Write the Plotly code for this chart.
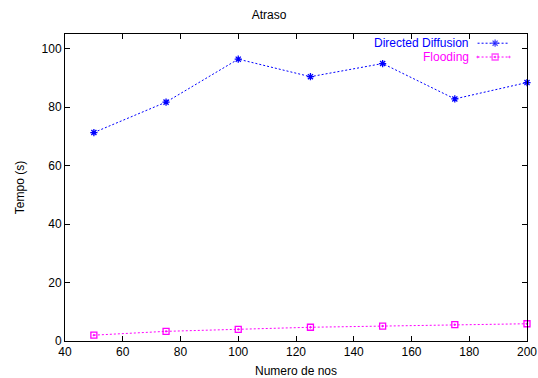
import plotly.graph_objects as go

# Number of nodes in each simulation run
nodes = [50, 75, 100, 125, 150, 175, 200]

# Mean delay (seconds) per protocol
directed_diffusion = [71.3, 81.7, 96.4, 90.4, 94.9, 82.8, 88.4]
flooding = [2.0, 3.3, 4.0, 4.7, 5.1, 5.6, 5.9]

series_names = ["Directed Diffusion", "Flooding"]
colors = ["#0000ff", "#ff00ff"]
symbols = ["asterisk-open", "square-open-dot"]

FONT = "Liberation Sans, Arial, Helvetica, sans-serif"
DOTTED = "2px,2px"

fig = go.Figure()
for name, ys, color, sym in zip(series_names, [directed_diffusion, flooding], colors, symbols):
    fig.add_trace(go.Scatter(
        x=nodes, y=ys, name=name, mode="lines+markers",
        line=dict(color=color, width=1, dash=DOTTED),
        marker=dict(symbol=sym, size=6, color=color, line=dict(color=color, width=1.3)),
        showlegend=False, cliponaxis=False,
    ))

# gnuplot-style key: right-aligned label followed by the line sample
key_rows = [0.970, 0.925]
for name, color, sym, ky in zip(series_names, colors, symbols, key_rows):
    fig.add_annotation(
        xref="paper", yref="paper", x=0.878, y=ky, xanchor="right", yanchor="middle",
        text=name, showarrow=False,
        font=dict(family=FONT, size=12, color=color),
    )
    fig.add_trace(go.Scatter(
        x=[0.893, 0.931, 0.962], y=[ky, ky, ky], xaxis="x2", yaxis="y2",
        mode="lines+markers",
        line=dict(color=color, width=1, dash=DOTTED),
        marker=dict(symbol=sym, size=[0, 6, 0], color=color, line=dict(color=color, width=1.3)),
        showlegend=False, hoverinfo="skip",
    ))

axis_common = dict(
    showline=True, linecolor="black", linewidth=1, mirror="ticks",
    ticks="inside", ticklen=5, tickcolor="black", tickwidth=1,
    showgrid=False, zeroline=False, automargin=False,
    tickfont=dict(family=FONT, size=12, color="black"),
)

fig.update_layout(
    width=538, height=378,
    margin=dict(l=65, r=11, t=34, b=37),
    paper_bgcolor="white", plot_bgcolor="white",
    title=dict(text="Atraso", x=0.5, xanchor="center", y=0.96, yanchor="middle",
               font=dict(family=FONT, size=12, color="black")),
    xaxis=dict(range=[40, 200], dtick=20, tick0=40,
               title=dict(text="Numero de nos", font=dict(family=FONT, size=12, color="black"), standoff=10),
               **axis_common),
    yaxis=dict(range=[0, 105], dtick=20, tick0=0,
               title=dict(text="Tempo (s)", font=dict(family=FONT, size=12, color="black"), standoff=14),
               **axis_common),
    xaxis2=dict(overlaying="x", range=[0, 1], visible=False, anchor="y2", domain=[0, 1]),
    yaxis2=dict(overlaying="y", range=[0, 1], visible=False, anchor="x2"),
    showlegend=False,
)

fig.write_html("out.html")
